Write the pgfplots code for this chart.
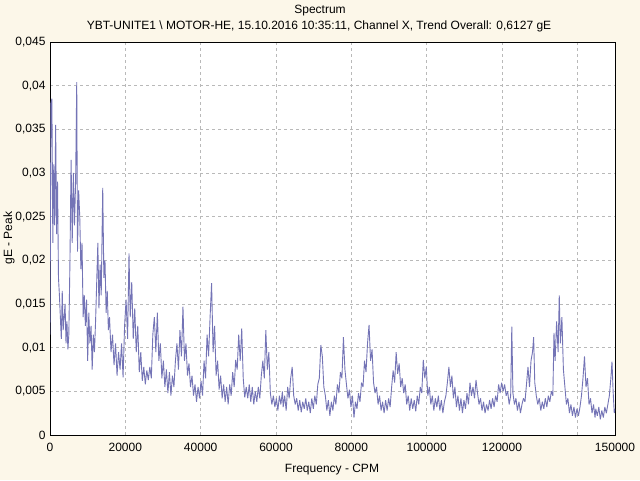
\documentclass[border=0pt]{standalone}
\usepackage{pgfplots}
\pgfplotsset{compat=1.18}
\usepackage{fontspec}
\setmainfont{Liberation Sans}
\definecolor{bgcream}{RGB}{252,247,233}
\definecolor{specline}{RGB}{116,116,182}
\definecolor{gridgray}{RGB}{185,185,185}
\begin{document}
\begin{tikzpicture}[x=1pt,y=1pt]
\fill[bgcream] (0,0) rectangle (640,480);
\useasboundingbox (0,0) rectangle (640,480);
\begin{axis}[
  at={(50pt,45pt)}, anchor=south west,
  width=565pt, height=393pt, scale only axis,
  xmin=0, xmax=150000, ymin=0, ymax=0.045,
  axis background/.style={fill=white},
  axis line style={black, line width=0.8pt},
  scaled ticks=false,
  xtick={0,20000,40000,60000,80000,100000,120000,140000,150000},
  xticklabels={0,20000,40000,60000,80000,100000,120000,,150000},
  ytick={0,0.005,0.01,0.015,0.02,0.025,0.03,0.035,0.04,0.045},
  yticklabels={0,{0,005},{0,01},{0,015},{0,02},{0,025},{0,03},{0,035},{0,04},{0,045}},
  major tick length=0pt,
  tick label style={font=\fontsize{12}{14}\selectfont, black},
  xticklabel style={yshift=-5pt},
  yticklabel style={xshift=-1pt},
  grid=major,
  major grid style={gridgray, dash pattern=on 3pt off 3pt, line width=0.5pt},
  clip=true,
]
\addplot[specline, line width=0.9pt, line join=bevel] table {
x y
0 0.0115
250 0.038
500 0.0385
750 0.022
1000 0.031
1250 0.024
1500 0.0355
1750 0.023
2000 0.029
2250 0.018
2500 0.016
3000 0.011
3250 0.0165
3500 0.012
4000 0.015
4250 0.0105
4500 0.013
4750 0.0098
5000 0.0115
5300 0.02
5600 0.0315
5900 0.022
6200 0.03
6500 0.024
6800 0.029
7100 0.0404
7300 0.021
7600 0.028
7900 0.025
8200 0.019
8500 0.022
8800 0.0135
9100 0.016
9400 0.0125
9700 0.0155
10000 0.0085
10300 0.014
10600 0.0105
10900 0.0125
11200 0.0075
11500 0.0115
11800 0.0095
12100 0.013
12400 0.0175
12700 0.022
13000 0.0145
13300 0.0195
13600 0.016
14000 0.0283
14300 0.018
14600 0.02
14900 0.014
15200 0.0165
15500 0.012
15800 0.0135
16200 0.0095
16600 0.0115
17000 0.008
17400 0.0105
17800 0.0068
18200 0.0095
18600 0.0075
19000 0.0105
19400 0.0066
19800 0.0125
20200 0.0155
20600 0.011
20975 0.0208
21300 0.0135
21700 0.0175
22100 0.011
22500 0.0145
22900 0.0095
23300 0.0125
23700 0.0072
24100 0.0095
24500 0.0062
24900 0.0078
25300 0.0058
25700 0.0074
26100 0.0063
26500 0.0078
26900 0.0065
27300 0.0115
27700 0.0135
28100 0.0095
28500 0.014
28900 0.0085
29300 0.0105
29700 0.0065
30100 0.0085
30500 0.0055
30900 0.0075
31300 0.0048
31700 0.0072
32100 0.0045
32500 0.0068
32900 0.0055
33300 0.0085
33700 0.0105
34100 0.0075
34500 0.012
34900 0.009
35300 0.0147
35700 0.0085
36100 0.0105
36500 0.0068
36900 0.0082
37300 0.0055
37700 0.0068
38100 0.0045
38500 0.0058
38900 0.0038
39300 0.0055
39700 0.0042
40100 0.0062
40500 0.0045
40900 0.0085
41300 0.0065
41700 0.0115
42100 0.009
42500 0.0135
42900 0.0174
43300 0.0095
43700 0.0125
44100 0.0068
44500 0.0085
44900 0.0052
45300 0.0068
45700 0.0042
46100 0.0058
46500 0.0038
46900 0.0055
47300 0.0035
47700 0.0058
48100 0.0045
48500 0.0072
48900 0.0055
49300 0.0086
49700 0.0075
50100 0.0115
50500 0.0085
50900 0.0122
51300 0.0065
51700 0.0043
52100 0.0055
52500 0.0042
52900 0.0058
53300 0.0038
53700 0.0055
54100 0.0035
54500 0.005
54900 0.0038
55300 0.0055
55700 0.0042
56100 0.0068
56500 0.0085
56900 0.0065
57300 0.012
57700 0.0075
58100 0.0095
58500 0.0048
58900 0.0035
59300 0.0045
59700 0.0032
60100 0.0042
60500 0.0028
60900 0.0045
61300 0.0035
61700 0.005
61900 0.0032
62300 0.0045
62700 0.0028
63100 0.0055
63500 0.0042
63900 0.0065
64300 0.0078
64700 0.0045
65100 0.0035
65500 0.0042
65900 0.0028
66300 0.004
66700 0.0026
67100 0.0038
67500 0.003
67900 0.0042
68300 0.0028
68700 0.0038
69100 0.0025
69500 0.0042
69900 0.003
70300 0.0045
70700 0.0035
71100 0.0058
71500 0.0065
71900 0.0103
72300 0.009
72700 0.0055
73100 0.0045
73500 0.0028
73900 0.004
74300 0.0022
74700 0.0038
75100 0.0028
75500 0.0045
75900 0.0035
76300 0.0058
76700 0.0048
77100 0.0072
77500 0.0065
77900 0.0112
78300 0.0075
78700 0.0058
79100 0.0042
79500 0.0052
79900 0.0032
80300 0.0045
80700 0.002
81100 0.0038
81500 0.003
81900 0.0048
82300 0.0038
82700 0.006
83100 0.0055
83500 0.0085
83900 0.0072
84300 0.0105
84700 0.0126
85100 0.0085
85500 0.0098
85900 0.006
86300 0.0048
86700 0.0055
87100 0.0035
87500 0.0045
87900 0.0028
88300 0.0038
88700 0.0025
89100 0.004
89500 0.0028
89900 0.0042
90300 0.0032
90700 0.0055
91100 0.0074
91500 0.006
91900 0.0095
92300 0.007
92700 0.0082
93100 0.0055
93500 0.0065
93900 0.0048
94300 0.0058
94700 0.0035
95100 0.0045
95500 0.0028
95900 0.0042
96300 0.003
96700 0.004
97100 0.0027
97500 0.0045
97900 0.0035
98300 0.0055
98700 0.0048
99100 0.0086
99500 0.0065
99900 0.0078
100300 0.0045
100700 0.0055
101100 0.0035
101500 0.0045
101900 0.0028
102300 0.0042
102700 0.0032
103100 0.0045
103500 0.0028
103900 0.004
104300 0.0025
104700 0.0038
105100 0.0045
105500 0.006
105900 0.0078
106300 0.0055
106700 0.0068
107100 0.0042
107500 0.0055
107900 0.0032
108300 0.0045
108700 0.0028
109100 0.0042
109500 0.0025
109900 0.004
110300 0.003
110700 0.0048
111100 0.0035
111500 0.006
111900 0.0045
112300 0.0055
112700 0.0042
113100 0.0063
113500 0.0048
113900 0.0035
114300 0.0042
114700 0.0028
115100 0.0038
115500 0.0025
115900 0.0035
116300 0.0028
116700 0.004
117100 0.003
117500 0.0042
117900 0.0032
118300 0.0045
118700 0.0038
119100 0.0058
119500 0.0048
119900 0.006
120300 0.005
120700 0.0058
121100 0.0045
121500 0.005
121900 0.0035
122300 0.0045
122600 0.0124
122900 0.0048
123300 0.0035
123700 0.0042
124100 0.0028
124500 0.0038
124900 0.0025
125300 0.0035
125700 0.0042
126100 0.0038
126500 0.0058
126900 0.0078
127300 0.0055
127700 0.0085
128100 0.0095
128400 0.0112
128700 0.006
129100 0.0045
129500 0.0035
129900 0.0042
130300 0.0028
130700 0.0038
131100 0.003
131500 0.0042
131900 0.0032
132300 0.0045
132700 0.0038
133100 0.005
133500 0.0045
133800 0.0117
134100 0.0085
134500 0.013
134900 0.0095
135200 0.016
135500 0.0105
135900 0.0135
136300 0.0075
136700 0.0055
137100 0.0035
137500 0.0042
137900 0.0025
138300 0.0035
138700 0.0022
139100 0.0032
139500 0.002
139900 0.003
140300 0.0022
140700 0.0032
141100 0.0045
141500 0.0065
141900 0.009
142300 0.0055
142700 0.0065
143100 0.0035
143500 0.0042
143900 0.0025
144300 0.0035
144700 0.002
144900 0.003
145300 0.0022
145700 0.0032
146100 0.0018
146500 0.0028
146900 0.002
147300 0.0032
147700 0.0025
148100 0.0035
148500 0.0045
148900 0.0065
149200 0.0084
149500 0.005
149800 0.0025
150000 0.003
};
\end{axis}
\node[font=\fontsize{12}{14}\selectfont] at (320,469) {Spectrum};
\node[font=\fontsize{12}{14}\selectfont] at (319,453.5) {YBT-UNITE1 \textbackslash{} MOTOR-HE, 15.10.2016 10:35:11, Channel X, Trend Overall: 0,6127 gE};
\node[font=\fontsize{12}{14}\selectfont] at (332,10.5) {Frequency - CPM};
\node[font=\fontsize{12}{14}\selectfont, rotate=90] at (9,242) {gE - Peak};
\end{tikzpicture}
\end{document}
